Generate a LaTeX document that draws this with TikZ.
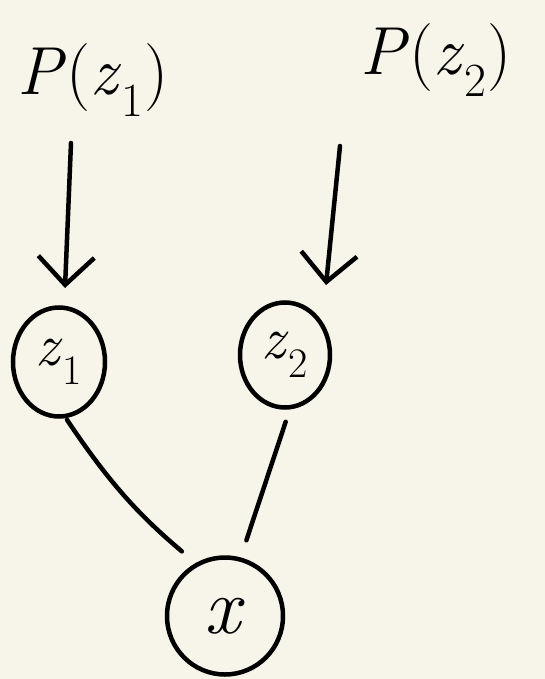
\documentclass[tikz,border=0pt]{standalone}
\usetikzlibrary{arrows.meta,shapes.geometric}
\definecolor{paper}{HTML}{F7F5EA}
\newcommand{\vv}[1]{\textit{#1}}
\tikzset{
  ink/.style={line width=4.5pt, line cap=round, line join=round, black},
  varnode/.style={ellipse, draw, line width=4.5pt, inner sep=0pt},
  distlabel/.style={font=\fontsize{68}{68}\selectfont, inner sep=0pt},
  arr/.style={ink, -{Straight Barb[length=28pt,width=56pt,line width=4.5pt]}},
}
\begin{document}
\begin{tikzpicture}[x=1pt,y=-1pt]
\fill[paper] (0,0) rectangle (545,679);
\useasboundingbox (0,0) rectangle (545,679);
\node[distlabel] (p1) at (93,80) {\vv{P}(\vv{z}\textsubscript{1})};
\node[distlabel] (p2) at (436,60) {\vv{P}(\vv{z}\textsubscript{2})};
\node[varnode, minimum width=92pt, minimum height=109pt, font=\fontsize{60}{60}\selectfont] (z1) at (59,362) {\vv{z}\textsubscript{1}};
\node[varnode, minimum width=90pt, minimum height=105pt, font=\fontsize{60}{60}\selectfont] (z2) at (285,355) {\vv{z}\textsubscript{2}};
\node[varnode, minimum width=116pt, minimum height=117pt, font=\fontsize{80}{80}\selectfont] (x) at (225,616) {\vv{x}};
\coordinate (a1s) at (71,143);
\coordinate (a1e) at (65,288);
\coordinate (a2s) at (340,146);
\coordinate (a2e) at (326,285);
\draw[arr] (a1s) -- (a1e);
\draw[arr] (a2s) -- (a2e);
\draw[ink, shorten <=2pt, shorten >=18pt] (z1.-83) to[bend right=8] (x.119);
\draw[ink, shorten <=13pt, shorten >=18pt] (z2.-85) to (x.75);
\end{tikzpicture}
\end{document}
